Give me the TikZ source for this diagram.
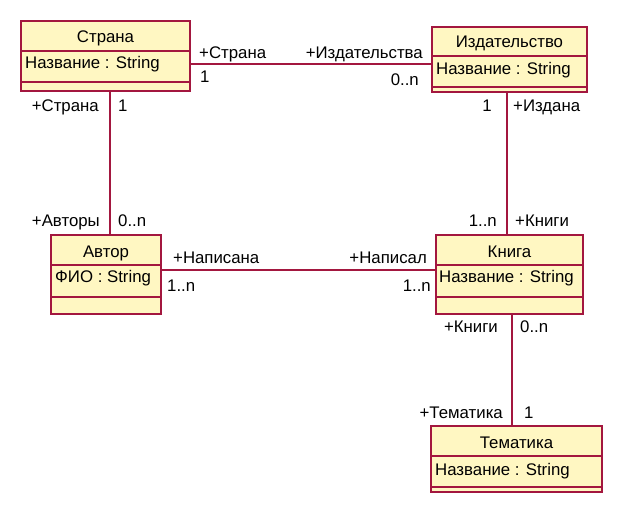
\documentclass[tikz,border=0pt]{standalone}
\usepackage{fontspec}
\setmainfont{Liberation Sans}
\definecolor{umlred}{HTML}{A3173F}
\definecolor{umlfill}{HTML}{FFF7C2}
\begin{document}
\begin{tikzpicture}[x=1pt,y=-1pt,
  classbox/.style={draw=umlred,fill=umlfill,line width=1.6pt,anchor=north west,inner sep=0pt,outer sep=0pt},
  divider/.style={draw=umlred,line width=1.6pt},
  assoc/.style={draw=umlred,line width=1.6pt},
  lbl/.style={inner sep=0pt,font=\fontsize{16.8}{18}\selectfont},
  lw/.style={lbl,anchor=base west},
  le/.style={lbl,anchor=base east},
  lc/.style={lbl,anchor=base}]
\useasboundingbox (0,0) rectangle (626,518);
% classes
\node[classbox,minimum width=169pt,minimum height=70pt] (s) at (21,21) {};
\node[classbox,minimum width=155pt,minimum height=65pt] (i) at (432,27) {};
\node[classbox,minimum width=110pt,minimum height=79pt] (a) at (51,235) {};
\node[classbox,minimum width=147pt,minimum height=79pt] (k) at (436,235) {};
\node[classbox,minimum width=171pt,minimum height=66pt] (t) at (431,426) {};
% dividers
\draw[divider] (s.north west) ++(0,30) -- ++(169,0) (s.north west) ++(0,61) -- ++(169,0);
\draw[divider] (i.north west) ++(0,29) -- ++(155,0) (i.north west) ++(0,60) -- ++(155,0);
\draw[divider] (a.north west) ++(0,30) -- ++(110,0) (a.north west) ++(0,62) -- ++(110,0);
\draw[divider] (k.north west) ++(0,30) -- ++(147,0) (k.north west) ++(0,62) -- ++(147,0);
\draw[divider] (t.north west) ++(0,30) -- ++(171,0) (t.north west) ++(0,61) -- ++(171,0);
% class texts
\node[lc] (sT) at (105.5,42.7) {Страна};
\node[lw] (sA) at (25,69) {Название : String};
\node[lc] (iT) at (509.5,47.7) {Издательство};
\node[lw] (iA) at (436,75) {Название : String};
\node[lc] (aT) at (106,258) {Автор};
\node[lw] (aA) at (55,283) {ФИО : String};
\node[lc] (kT) at (509.5,258) {Книга};
\node[lw] (kA) at (439,283) {Название : String};
\node[lc] (tT) at (516.5,448) {Тематика};
\node[lw] (tA) at (435,475) {Название : String};
% connectors
\coordinate (c1) at ([yshift=-43pt]s.north east);
\draw[assoc] (c1) -- (c1 -| i.west);
\coordinate (c2) at ([xshift=89pt]s.south west);
\draw[assoc] (c2) -- (c2 |- a.north);
\coordinate (c3) at ([xshift=75pt]i.south west);
\draw[assoc] (c3) -- (c3 |- k.north);
\coordinate (c4) at ([yshift=-35pt]a.north east);
\draw[assoc] (c4) -- (c4 -| k.west);
\coordinate (c5) at ([xshift=76pt]k.south west);
\draw[assoc] (c5) -- (c5 |- t.north);
% role labels and multiplicities
\node[lw] (l1) at (199,59) {+Страна};
\node[lw] (m1) at (200,83) {1};
\node[le] (l2) at (423,59) {+Издательства};
\node[le] (m2) at (419,86) {0..n};
\node[le] (l3) at (99,112) {+Страна};
\node[lw] (m3) at (118,112) {1};
\node[le] (m4) at (492,112) {1};
\node[lw] (l4) at (513,112) {+Издана};
\node[le] (l5) at (100,227) {+Авторы};
\node[lw] (m5) at (118,227) {0..n};
\node[lw] (l6) at (173,264) {+Написана};
\node[lw] (m6) at (167,292) {1..n};
\node[le] (m7) at (497,227) {1..n};
\node[lw] (l7) at (515,227) {+Книги};
\node[le] (l8) at (427,264) {+Написал};
\node[le] (m8) at (431,292) {1..n};
\node[le] (l9) at (498,333) {+Книги};
\node[lw] (m9) at (520,333) {0..n};
\node[le] (l10) at (503,418) {+Тематика};
\node[lw] (m10) at (524,418) {1};
\end{tikzpicture}
\end{document}
